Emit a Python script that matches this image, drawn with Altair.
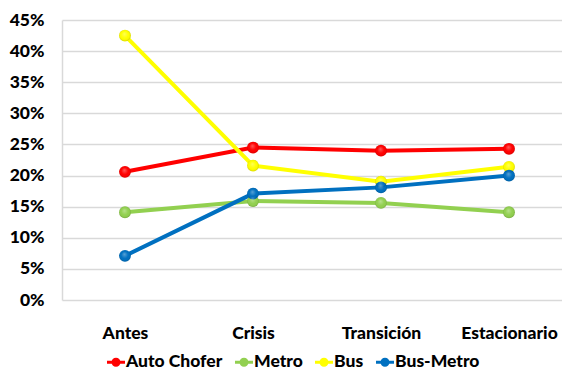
import altair as alt
import pandas as pd

# Share of trips by mode across the four periods
periods = ["Antes", "Crisis", "Transición", "Estacionario"]
series = ["Auto Chofer", "Metro", "Bus", "Bus-Metro"]
colors = ["#FF0000", "#92D050", "#FFFF00", "#0070C0"]

auto_chofer = [0.206, 0.245, 0.240, 0.243]
metro = [0.141, 0.159, 0.156, 0.141]
bus = [0.425, 0.216, 0.190, 0.214]
bus_metro = [0.071, 0.171, 0.181, 0.200]

values = {
    "Auto Chofer": auto_chofer,
    "Metro": metro,
    "Bus": bus,
    "Bus-Metro": bus_metro,
}

rows = []
for s_i, name in enumerate(series):
    for p_i, period in enumerate(periods):
        rows.append({"Periodo": period, "Modo": name, "Valor": values[name][p_i], "orden": s_i})
df = pd.DataFrame(rows)

FONT = "Lato"
FSIZE = 17.5
WEIGHT = 900

x_enc = alt.X(
    "Periodo:N",
    sort=periods,
    scale=alt.Scale(type="point", domain=periods, padding=0.453, align=0.543),
    axis=alt.Axis(
        title=None, domain=False, ticks=False, grid=False, labelAngle=0,
        labelFont=FONT, labelFontWeight=WEIGHT, labelFontSize=FSIZE, labelColor="#000000",
        labelPadding=24,
    ),
)
y_enc = alt.Y(
    "Valor:Q",
    scale=alt.Scale(domain=[0, 0.45], nice=False, zero=True),
    axis=alt.Axis(
        title=None, format=".0%", values=[i * 0.05 for i in range(10)],
        domain=True, domainColor="#D9D9D9", domainWidth=1.5,
        ticks=False, grid=True, gridColor="#D9D9D9", gridWidth=1.5,
        labelFont=FONT, labelFontWeight=WEIGHT, labelFontSize=FSIZE, labelColor="#000000",
        labelPadding=18,
    ),
)
color_scale = alt.Scale(domain=series, range=colors)

# Legend glyph: a short line segment with a dot in the middle
legend_symbol = (
    "M-1,-0.18 L1,-0.18 L1,0.18 L-1,0.18 Z "
    "M0.5,0 A0.5,0.5 0 1,1 -0.5,0 A0.5,0.5 0 1,1 0.5,0 Z"
)
legend = alt.Legend(
    title=None, orient="none", direction="horizontal",
    legendX=45, legendY=333,
    symbolType=legend_symbol, symbolSize=324, symbolStrokeWidth=0,
    symbolOpacity=1,
    labelFont=FONT, labelFontWeight=WEIGHT, labelFontSize=FSIZE, labelColor="#000000",
    labelOffset=1, columnPadding=12,
)
color_enc = alt.Color("Modo:N", scale=color_scale, legend=legend)

lines = alt.Chart(df).mark_line(strokeWidth=4).encode(
    x=x_enc,
    y=y_enc,
    color=color_enc,
    order=alt.Order("orden:Q"),
)

points = alt.Chart(df).mark_circle(size=140, opacity=1).encode(
    x=x_enc,
    y=y_enc,
    color=color_enc,
    order=alt.Order("orden:Q"),
)

# Soft shading on each marker: lighter top, darker lower rim
shade = alt.Chart(df).mark_circle(
    size=140,
    opacity=1,
    fill=alt.RadialGradient(
        gradient="radial",
        x1=0.45, y1=0.35, r1=0.0,
        x2=0.5, y2=0.5, r2=0.55,
        stops=[
            alt.GradientStop(offset=0.0, color="rgba(255,255,255,0.35)"),
            alt.GradientStop(offset=0.55, color="rgba(255,255,255,0)"),
            alt.GradientStop(offset=0.8, color="rgba(0,0,0,0.05)"),
            alt.GradientStop(offset=1.0, color="rgba(0,0,0,0.25)"),
        ],
    ),
).encode(
    x=x_enc,
    y=y_enc,
    order=alt.Order("orden:Q"),
)

chart = (
    alt.layer(lines, points, shade)
    .properties(
        width=500,
        height=280,
        autosize=alt.AutoSizeParams(type="none"),
        padding={"left": 62, "top": 20, "right": 0, "bottom": 71},
        background="#FFFFFF",
    )
    .configure_view(stroke=None)
)

chart.save("out.html", embed_options={"renderer": "svg", "actions": False})
